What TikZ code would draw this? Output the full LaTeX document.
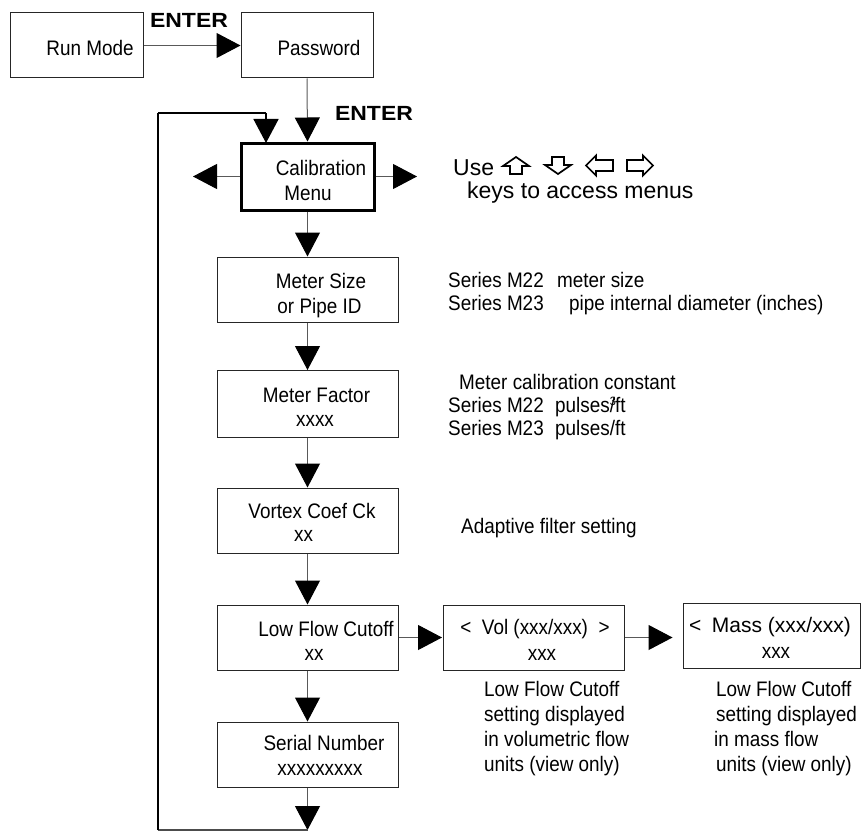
\documentclass[tikz,border=0pt]{standalone}
\usepackage{fontspec}
\setmainfont{Liberation Sans}[FakeStretch=0.9]
\newfontfamily\widefont{Liberation Sans}
\newfontfamily\enterfont{Liberation Sans}[FakeStretch=1.12]
\usetikzlibrary{arrows.meta}
\begin{document}
\begin{tikzpicture}[x=1pt,y=-1pt,
  box/.style={draw=black!85,line width=1pt,minimum width=#1,minimum height=65pt,inner sep=0pt},
  t/.style={font=\fontsize{21}{25}\selectfont,inner sep=0pt,anchor=base},
  tl/.style={t,anchor=base west},
  big/.style={font=\widefont\fontsize{23}{27}\selectfont,inner sep=0pt,anchor=base west},
  enter/.style={font=\enterfont\bfseries\fontsize{20.5}{20.5}\selectfont,inner sep=0pt,anchor=base},
  arr/.style={draw=black!65,line width=1pt,-{Triangle[length=24pt,width=25pt,color=black]}},
  keyarrow/.style={draw=black,line width=1.7pt,line join=miter}
]
\useasboundingbox (0,0) rectangle (861,832);

% boxes
\node[box=133pt] (run) at (76.5,45.5) {};
\node[box=132pt] (pw) at (307,45.5) {};
\node[box=133pt,minimum height=67pt,line width=3pt,draw=black] (cal) at (307.5,176.5) {};
\node[box=181pt] (ms) at (307.5,289.5) {};
\node[box=181pt,minimum height=67pt] (mf) at (307.5,404) {};
\node[box=181pt] (vc) at (307.5,520.5) {};
\node[box=181pt] (lf) at (307.5,637.5) {};
\node[box=181pt] (sn) at (307.5,754.5) {};
\node[box=181pt] (vol) at (534,637.5) {};
\node[box=177pt] (mass) at (771.5,635.5) {};

% box texts
\node[t] (trun) at (90,56) {Run Mode};
\node[t] (tpw) at (319,56) {Password};
\node[t] (tcal1) at (321,175) {Calibration};
\node[t] (tcal2) at (308,200) {Menu};
\node[t] (tms1) at (321,288) {Meter Size};
\node[t] (tms2) at (319.5,313) {or Pipe ID};
\node[t] (tmf1) at (316.5,402) {Meter Factor};
\node[t] (tmf2) at (315,426) {xxxx};
\node[t] (tvc1) at (312,518) {Vortex Coef Ck};
\node[t] (tvc2) at (303.5,541) {xx};
\node[t] (tlf1) at (326,636) {Low Flow Cutoff};
\node[t] (tlf2) at (314,660) {xx};
\node[t] (tsn1) at (324,750) {Serial Number};
\node[t] (tsn2) at (320,775) {xxxxxxxxx};
\node[t] (tvol1) at (535,634) {<\ \ Vol (xxx/xxx)\ \ >};
\node[t] (tvol2) at (542,660) {xxx};
\node[tl,font=\widefont\fontsize{21}{25}\selectfont] (tmass1) at (689,632) {<\hspace{0.5em}Mass (xxx/xxx)};
\node[t] (tmass2) at (776,658) {xxx};

% labels
\node[enter] (e1) at (189,28) {ENTER};
\node[enter] (e2) at (374,121) {ENTER};

% side texts
\node[big] (use) at (453,175) {Use};
\node[big] (keys) at (467,198) {keys to access menus};
\node[tl] (s1) at (448,287) {Series M22};
\node[tl] (s1b) at (557,287) {meter size};
\node[tl] (s2) at (448,310) {Series M23};
\node[tl] (s2b) at (569,310) {pipe internal diameter (inches)};
\node[tl] (c1) at (459,389) {Meter calibration constant};
\node[tl] (c2) at (448,412) {Series M22};
\node[tl] (c2b) at (555,412) {pulses\rlap{\raisebox{7pt}{\fontsize{12}{12}\selectfont 3}}/ft};
\node[tl] (c3) at (448,435) {Series M23};
\node[tl] (c3b) at (555,435) {pulses/ft};
\node[tl] (ad) at (461,533) {Adaptive filter setting};
\node[tl,align=left,font=\fontsize{21}{25}\selectfont,anchor=north west] (vn) at (484,681) {Low Flow Cutoff\\setting displayed\\in volumetric flow\\units (view only)};
\node[tl,align=left,font=\fontsize{21}{25}\selectfont,anchor=north west] (mn) at (716,681) {Low Flow Cutoff\\setting displayed\\\hspace*{-2pt}in mass flow\\units (view only)};

% key arrows
\draw[keyarrow] (516,157) -- (529,166) -- (522,166) -- (522,174) -- (510,174) -- (510,166) -- (503,166) -- cycle;
\draw[keyarrow] (558,174) -- (571,165) -- (564,165) -- (564,157) -- (552,157) -- (552,165) -- (545,165) -- cycle;
\draw[keyarrow] (586,165.5) -- (596,155.5) -- (596,160) -- (613,160) -- (613,171) -- (596,171) -- (596,175.5) -- cycle;
\draw[keyarrow] (653,165.5) -- (643,155.5) -- (643,160) -- (627,160) -- (627,171) -- (643,171) -- (643,175.5) -- cycle;

% coordinates
\coordinate (calL) at (193,176.5);
\coordinate (calR) at (417,176.5);
\coordinate (bot) at (307.5,830);
\coordinate (bl) at (158,830);
\coordinate (tl) at (158,113);
\coordinate (tr) at (266,113);
\coordinate (trb) at (266,143);

% connectors
\draw[arr] (run.east) -- (pw.west);
\draw[arr] (pw.south) -- (cal.north);
\draw[arr] (cal.west) -- (calL);
\draw[arr] (cal.east) -- (calR);
\draw[arr] (cal.south) -- (ms.north);
\draw[arr] (ms.south) -- (mf.north);
\draw[arr] (mf.south) -- (vc.north);
\draw[arr] (vc.south) -- (lf.north);
\draw[arr] (lf.south) -- (sn.north);
\draw[arr,shorten >=1pt] (lf.east) -- (vol.west);
\draw[arr,shorten >=10pt] (vol.east) -- (vol.east -| mass.west);
\draw[arr] (sn.south) -- (bot);
\draw[draw=black!70,line width=1.2pt] (bot) -- (bl);
\draw[line width=2.2pt] (bl) -- (tl);
\draw[line width=1.5pt] (tl) -- (tr);
\draw[arr,draw=black,line width=1.5pt] (tr) -- (trb);
\end{tikzpicture}
\end{document}
